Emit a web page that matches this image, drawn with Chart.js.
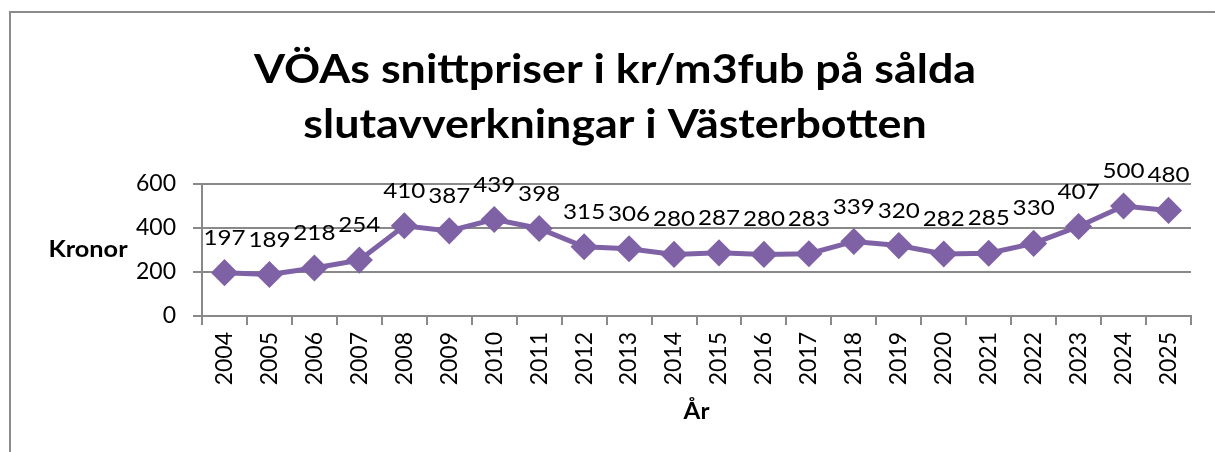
<!DOCTYPE html>
<html>
<head>
<meta charset="utf-8">
<script src="https://cdn.jsdelivr.net/npm/chart.js@4.4.1/dist/chart.umd.min.js"></script>
<style>
  html, body { margin: 0; padding: 0; background: #fff; }
  #wrap { width: 1215px; height: 452px; position: relative; }
</style>
</head>
<body>
<div id="wrap"><canvas id="myChart" width="1215" height="452"></canvas></div>
<script>
const years = ["2004","2005","2006","2007","2008","2009","2010","2011","2012","2013","2014","2015","2016","2017","2018","2019","2020","2021","2022","2023","2024","2025"];
const priser = [197,189,218,254,410,387,439,398,315,306,280,287,280,283,339,320,282,285,330,407,500,480];
const yTicks = [0,200,400,600];
const titel = ["VÖAs snittpriser i kr/m3fub på sålda", "slutavverkningar i Västerbotten"];
const yTitel = "Kronor";
const xTitel = "År";

const fontNamn = "Lato, 'Open Sans', sans-serif";
const lila = "#7F62A5";
const gra = "#898989";

// text som dras ut lite på bredden (som i originalet)
function bredText(ctx, txt, x, y, sx) {
  ctx.save();
  ctx.translate(x, y);
  ctx.scale(sx, 1);
  ctx.fillText(txt, 0, 0);
  ctx.restore();
}

// ram, titel, axeltitlar och värden ovanför punkterna
const extraRitning = {
  id: "extraRitning",
  afterDraw(chart) {
    const ctx = chart.ctx;
    const area = chart.chartArea;
    ctx.save();
    ctx.strokeStyle = "#8c8c8c";
    ctx.lineWidth = 2;
    ctx.beginPath();
    ctx.moveTo(10, 460);
    ctx.lineTo(10, 12);
    ctx.lineTo(1220, 12);
    ctx.stroke();

    ctx.fillStyle = "#000";
    ctx.textAlign = "center";
    ctx.textBaseline = "middle";
    ctx.font = "bold 40px " + fontNamn;
    bredText(ctx, titel[0], 615, 70, 1.12);
    bredText(ctx, titel[1], 615, 125, 1.12);

    ctx.font = "bold 22px " + fontNamn;
    bredText(ctx, yTitel, 88, (area.top + area.bottom) / 2, 1.15);
    bredText(ctx, xTitel, (area.left + area.right) / 2, 412, 1.1);

    ctx.font = "22px " + fontNamn;
    const meta = chart.getDatasetMeta(0);
    meta.data.forEach((p, i) => {
      bredText(ctx, String(priser[i]), p.x, p.y - 35, 1.1);
    });
    ctx.restore();
  }
};

const chart = new Chart(document.getElementById("myChart").getContext("2d"), {
  type: "line",
  data: {
    labels: years,
    datasets: [{
      data: priser,
      borderColor: lila,
      backgroundColor: lila,
      borderWidth: 5,
      pointStyle: "rectRot",
      pointRadius: 10,
      pointHoverRadius: 10,
      tension: 0
    }]
  },
  options: {
    responsive: false,
    animation: false,
    events: [],
    layout: { padding: { left: 120, top: 184, right: 24, bottom: 16 } },
    plugins: { legend: { display: false }, tooltip: { enabled: false }, title: { display: false } },
    scales: {
      x: {
        offset: true,
        grid: { offset: true, drawOnChartArea: false, drawTicks: true, tickLength: 9, color: gra, lineWidth: 2 },
        border: { color: gra, width: 2 },
        ticks: { color: "#000", font: { family: fontNamn, size: 23 }, minRotation: 90, maxRotation: 90, padding: 7, autoSkip: false },
        afterFit(scale) { scale.height = 452 - 316 - 16; }
      },
      y: {
        min: 0, max: 600,
        afterBuildTicks(scale) { scale.ticks = yTicks.map(v => ({ value: v })); },
        grid: { color: gra, lineWidth: 2, tickLength: 9 },
        border: { color: gra, width: 2 },
        ticks: { color: "#000", font: { family: fontNamn, size: 23 }, padding: 17 },
        afterFit(scale) { scale.width = 82; }
      }
    }
  },
  plugins: [extraRitning]
});
</script>
</body>
</html>
